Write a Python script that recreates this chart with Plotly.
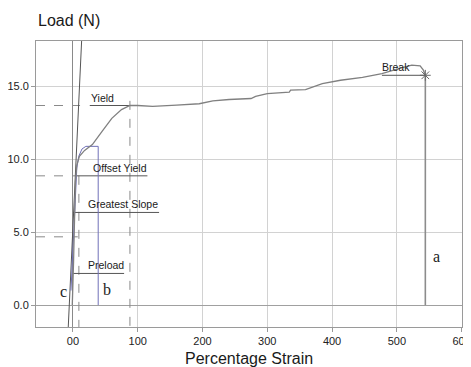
import plotly.graph_objects as go

# Main load-strain curve (gray)
strain = [-1, 0, 1, 2, 3, 4, 6, 10, 18, 30, 45, 60, 75, 88, 100, 123, 160, 195, 216, 241,
          275, 282, 300, 334, 336, 359, 385, 400, 413, 447, 477, 503, 523, 536, 541, 544]
load = [0, 1, 3, 5, 7, 8.5, 9.6, 10.2, 10.6, 11.0, 11.9, 12.8, 13.4, 13.68, 13.68, 13.62, 13.7,
        13.8, 14.0, 14.09, 14.16, 14.3, 14.5, 14.6, 14.73, 14.77, 15.18, 15.29, 15.41, 15.6,
        15.87, 16.2, 16.44, 16.4, 16.1, 15.75]

# Blue offset curve (b)
blue_strain = [-3, -1, 0, 2, 4, 6, 9, 14, 20, 39, 39]
blue_load = [1.0, 3.0, 4.2, 6.5, 8.3, 9.4, 10.2, 10.7, 10.88, 10.88, 0]

# Greatest slope tangent line (c)
tangent_strain = [-7.2, 13.4]
tangent_load = [-1.5, 18.1]

# Key points
yield_strain, yield_load = 88, 13.68
offset_strain, offset_load = 9.2, 8.86
slope_load = 6.35
slope_ref_load, slope_ref_strain = 4.68, 7.5
preload_load = 2.17
break_strain, break_load = 544, 15.75

x_ticks = [0, 100, 200, 300, 400, 500, 600]
x_ticktext = ["00", "100", "200", "300", "400", "500", "600"]
y_ticks = [0, 5, 10, 15]
y_ticktext = ["0.0", "5.0", "10.0", "15.0"]

X_MIN, X_MAX = -57, 600.6
Y_MIN, Y_MAX = -1.5, 18.1

fig = go.Figure()

dash_col = "#8a8a8a"
ul_col = "#555555"

def seg(xs, ys, color, width=1, dash="solid"):
    fig.add_trace(go.Scatter(x=xs, y=ys, mode="lines", hoverinfo="skip",
                             line=dict(color=color, width=width, dash=dash), showlegend=False))

# Dashed reference lines
seg([X_MIN, 11], [yield_load, yield_load], dash_col, 1, "dash")
seg([yield_strain, yield_strain], [14.0, Y_MIN], dash_col, 1, "dash")
seg([X_MIN, 4], [offset_load, offset_load], dash_col, 1, "dash")
seg([offset_strain, offset_strain], [offset_load, Y_MIN], dash_col, 1, "dash")
seg([X_MIN, slope_ref_strain], [slope_ref_load, slope_ref_load], dash_col, 1, "dash")

# Underlines for labels
seg([26, yield_strain], [yield_load, yield_load], ul_col, 1)
seg([6, 115], [offset_load, offset_load], ul_col, 1)
seg([0.5, 133], [slope_load, slope_load], ul_col, 1)
seg([0, 79], [preload_load, preload_load], ul_col, 1)
seg([477, break_strain], [break_load, break_load], ul_col, 1)

# Tangent line
seg(tangent_strain, tangent_load, "#555555", 1)

# Blue curve
seg(blue_strain, blue_load, "#7070b8", 1)

# Main curve
seg(strain, load, "#808080", 1.3)

# Break vertical line (a)
seg([break_strain, break_strain], [break_load, 0], "#8c8c8c", 1.6)

# Break marker
fig.add_trace(go.Scatter(x=[break_strain], y=[break_load], mode="markers", hoverinfo="skip",
                         marker=dict(symbol="asterisk-open", size=9, color="#666666",
                                     line=dict(color="#666666", width=1)),
                         showlegend=False))

lab_font = dict(family="Arial, Liberation Sans, sans-serif", size=10.5, color="#1a1a1a")
for txt, xx, yy in [("Yield", 45, yield_load), ("Offset Yield", 73, offset_load),
                    ("Greatest Slope", 78, slope_load), ("Preload", 51, preload_load),
                    ("Break", 498, break_load)]:
    fig.add_annotation(x=xx, y=yy, text=txt, showarrow=False, yanchor="bottom",
                       yshift=0, font=lab_font)

serif = dict(family="Liberation Serif, Times New Roman, serif", size=16, color="#222222")
fig.add_annotation(x=-15, y=0.9, text="c", showarrow=False, font=serif)
fig.add_annotation(x=52, y=1.07, text="b", showarrow=False, font=serif)
fig.add_annotation(x=562, y=3.3, text="a", showarrow=False, font=serif)

title_font = dict(family="Arial, Liberation Sans, sans-serif", size=16, color="#1a1a1a")
fig.add_annotation(x=0, xref="paper", xanchor="left", y=1.0, yref="paper", yanchor="bottom",
                   yshift=10, text="Load (N)", showarrow=False, font=title_font)
fig.add_annotation(x=0.5, xref="paper", xanchor="center", y=0, yref="paper", yanchor="top",
                   yshift=-21, text="Percentage Strain", showarrow=False, font=title_font)

# The page body has an 8px margin, so the figure is sized to fit the 471x367 window
fig.update_layout(
    width=463, height=359,
    margin=dict(l=28, r=9, t=33, b=40),
    paper_bgcolor="white", plot_bgcolor="white",
    font=dict(family="Arial, Liberation Sans, sans-serif", size=11, color="#222222"),
    xaxis=dict(range=[X_MIN, X_MAX], tickvals=x_ticks, ticktext=x_ticktext,
               automargin=False,
               showgrid=True, gridcolor="#d2d2d2", gridwidth=1,
               zeroline=True, zerolinecolor="#8a8a8a", zerolinewidth=1,
               showline=True, linecolor="#9a9a9a", mirror=True,
               ticks="outside", ticklen=4, tickcolor="#9a9a9a"),
    yaxis=dict(range=[Y_MIN, Y_MAX], tickvals=y_ticks, ticktext=y_ticktext,
               automargin=False,
               showgrid=True, gridcolor="#d2d2d2", gridwidth=1,
               zeroline=True, zerolinecolor="#a0a0a0", zerolinewidth=1,
               showline=True, linecolor="#9a9a9a", mirror=True,
               ticks="outside", ticklen=4, tickcolor="#9a9a9a"),
)

fig.write_html("out.html")
